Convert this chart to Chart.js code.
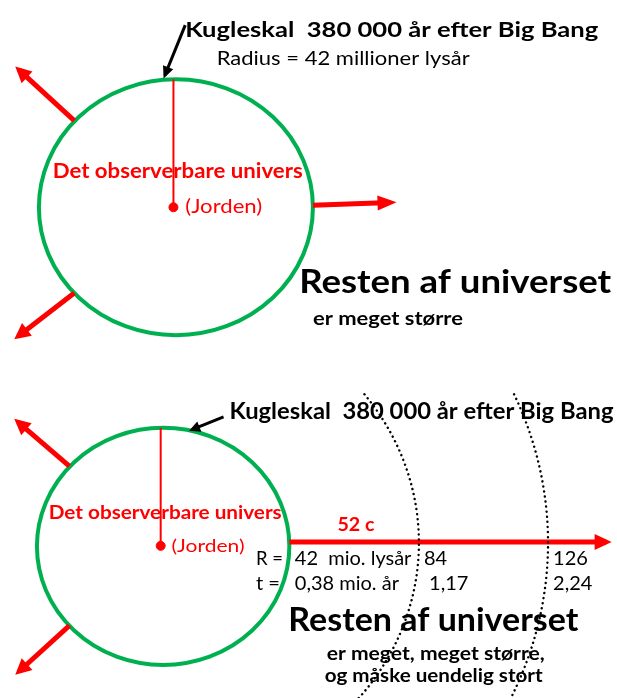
<!DOCTYPE html>
<html>
<head>
<meta charset="utf-8">
<script src="https://cdn.jsdelivr.net/npm/chart.js@4/dist/chart.umd.min.js"></script>
<style>
  html, body { margin: 0; padding: 0; background: #fff; }
  canvas { display: block; }
</style>
</head>
<body>
<canvas id="universChart" width="617" height="698"></canvas>
<script>
// Data: radius of the observable universe and later shells (mio. lysår) and times (mio. år)
const ringRadii = [42, 84, 126];
const ringTimes = ['0,38', '1,17', '2,24'];
const speedLabel = '52 c';

const ringLabels = ringRadii.map((r, i) => i === 0 ? r + '  mio. lysår' : String(r));
const timeLabels = ringTimes.map((t, i) => i === 0 ? t + ' mio. år' : (i === 1 ? ' ' + t : t));

// Layout (canvas pixels, via the x / y scales)
const RED = '#ff0000';
const GREEN = '#00b050';
const earthTop = { x: 171, y: 205 };
const earthBottom = { x: 158, y: 549 };
const shellTop = { cx: 173.5, cy: 205, rx: 139.5, ry: 130 };
const shellBottom = { cx: 160.5, cy: 549.5, rx: 128.5, ry: 120.5 };
const pxPerMly = 3.13;
const ringCenterY = 546;
const ringAspect = 0.937;
const ringTopY = 395;

// Build a line dataset ending under an arrow head
function arrowDataset(from, to, color, width, headLen, headHalf) {
    const dx = to[0] - from[0], dy = to[1] - from[1];
    const L = Math.hypot(dx, dy);
    const ext = (width / 2) * headLen / headHalf;
    return {
        showLine: true,
        data: [{ x: from[0], y: from[1] }, { x: to[0] - dx / L * ext, y: to[1] - dy / L * ext }],
        borderColor: color,
        backgroundColor: color,
        borderWidth: width,
        borderCapStyle: 'butt',
        pointRadius: 0,
        clip: false,
        arrow: { len: headLen, half: headHalf, ext: ext }
    };
}

const datasets = [
    // radius lines
    { showLine: true, data: [{ x: 171, y: 75 }, earthTop], borderColor: RED, borderWidth: 2, pointRadius: 0 },
    { showLine: true, data: [{ x: 158, y: 429 }, earthBottom], borderColor: RED, borderWidth: 2, pointRadius: 0 },
    // Jorden
    { data: [earthTop, earthBottom], backgroundColor: RED, borderColor: RED, pointRadius: 4.5 },
    // expansion arrows
    arrowDataset([70, 117], [10, 62], RED, 5, 16, 8),
    arrowDataset([313, 203], [398, 200], RED, 5, 19, 7.5),
    arrowDataset([70, 292], [9, 339], RED, 5, 16, 8),
    arrowDataset([65, 468], [9, 420], RED, 5, 16, 8),
    arrowDataset([65, 630], [10, 680], RED, 5, 16, 8),
    arrowDataset([289, 545], [617, 545], RED, 5, 17, 8),
    // pointer arrows
    arrowDataset([183, 20], [161, 74], '#000', 3, 12, 5.5),
    arrowDataset([222, 418], [187, 432], '#000', 3, 11, 5.5)
];

const texts = [
    { text: 'Kugleskal  380 000 år efter Big Bang', x: 183, y: 32, size: 21, bold: true, w: 413 },
    { text: 'Radius = ' + ringRadii[0] + ' millioner lysår', x: 215, y: 60, size: 18.5, w: 253 },
    { text: 'Det observerbare univers', x: 48, y: 175, size: 20, bold: true, color: RED, w: 250 },
    { text: '(Jorden)', x: 183, y: 211, size: 18.5, color: RED, w: 77 },
    { text: 'Resten af universet', x: 299, y: 292, size: 33, bold: true, w: 312 },
    { text: 'er meget større', x: 313, y: 325, size: 18.5, bold: true, w: 150 },
    { text: 'Kugleskal  380 000 år efter Big Bang', x: 228, y: 420, size: 22, bold: true, w: 384 },
    { text: 'Det observerbare univers', x: 44, y: 522, size: 19, bold: true, color: RED, w: 233 },
    { text: '(Jorden)', x: 169, y: 555, size: 18, color: RED, w: 73 },
    { text: speedLabel, x: 338, y: 534, size: 19, bold: true, color: RED, w: 37 },
    { text: 'R =', x: 255, y: 568, size: 20, w: 27 },
    { text: 't =', x: 255, y: 594, size: 20, w: 24 },
    { text: 'Resten af universet', x: 288, y: 636, size: 32.5, bold: true, w: 290 },
    { text: 'er meget, meget større,', x: 327, y: 665, size: 18.5, bold: true, w: 218 },
    { text: 'og måske uendelig stort', x: 325, y: 687, size: 18.5, bold: true, w: 218 }
];

function drawText(ctx, xs, ys, l) {
    ctx.save();
    ctx.font = (l.bold ? 'bold ' : '') + l.size + 'px Lato, "Open Sans", sans-serif';
    ctx.fillStyle = l.color || '#000';
    ctx.textBaseline = 'alphabetic';
    const natural = ctx.measureText(l.text).width;
    const sx = l.w ? l.w / natural : 1;
    ctx.translate(xs.getPixelForValue(l.x), ys.getPixelForValue(l.y));
    ctx.scale(sx, 1);
    ctx.fillText(l.text, 0, 0);
    ctx.restore();
}

function strokeShell(ctx, xs, ys, s) {
    const cx = xs.getPixelForValue(s.cx), cy = ys.getPixelForValue(s.cy);
    const rx = xs.getPixelForValue(s.cx + s.rx) - cx;
    const ry = ys.getPixelForValue(s.cy + s.ry) - cy;
    ctx.beginPath();
    ctx.ellipse(cx, cy, rx, ry, 0, 0, Math.PI * 2);
    ctx.stroke();
}

const diagramPlugin = {
    id: 'diagram',
    beforeDatasetsDraw(chart) {
        const ctx = chart.ctx, xs = chart.scales.x, ys = chart.scales.y;
        ctx.save();
        ctx.strokeStyle = GREEN;
        ctx.lineWidth = 4;
        strokeShell(ctx, xs, ys, shellTop);
        strokeShell(ctx, xs, ys, shellBottom);
        ctx.restore();
    },
    afterDatasetsDraw(chart) {
        const ctx = chart.ctx, xs = chart.scales.x, ys = chart.scales.y, ms = chart.scales.mly;

        // arrow heads
        chart.data.datasets.forEach((ds, i) => {
            if (!ds.arrow) return;
            const pts = chart.getDatasetMeta(i).data;
            const p0 = pts[0], p1 = pts[pts.length - 1];
            const L = Math.hypot(p1.x - p0.x, p1.y - p0.y);
            const ux = (p1.x - p0.x) / L, uy = (p1.y - p0.y) / L;
            const ax = p1.x + ux * ds.arrow.ext, ay = p1.y + uy * ds.arrow.ext;
            const bx = ax - ux * ds.arrow.len, by = ay - uy * ds.arrow.len;
            ctx.save();
            ctx.fillStyle = ds.borderColor;
            ctx.beginPath();
            ctx.moveTo(ax, ay);
            ctx.lineTo(bx - uy * ds.arrow.half, by + ux * ds.arrow.half);
            ctx.lineTo(bx + uy * ds.arrow.half, by - ux * ds.arrow.half);
            ctx.closePath();
            ctx.fill();
            ctx.restore();
        });

        // texts
        texts.forEach(l => drawText(ctx, xs, ys, l));

        // ring labels R and t
        const row1 = 568, row2 = 594;
        ringRadii.forEach((r, i) => {
            const x = xs.getValueForPixel(ms.getPixelForValue(r) + 5);
            drawText(ctx, xs, ys, { text: ringLabels[i], x: x, y: row1, size: 20 });
            drawText(ctx, xs, ys, { text: timeLabels[i], x: x, y: row2, size: 20 });
        });

        // dotted shells for the larger radii
        ctx.save();
        ctx.strokeStyle = '#000';
        ctx.lineWidth = 2.4;
        ctx.lineCap = 'round';
        ctx.setLineDash([0.1, 5]);
        const cx = ms.getPixelForValue(0);
        const cy = ys.getPixelForValue(ringCenterY);
        ringRadii.slice(1).forEach(r => {
            const rx = ms.getPixelForValue(r) - cx;
            const ry = rx * ringAspect;
            const t0 = Math.asin(Math.max(-1, (ys.getPixelForValue(ringTopY) - cy) / ry));
            const t1 = Math.asin(Math.min(1, (chart.height + 6 - cy) / ry));
            ctx.beginPath();
            ctx.ellipse(cx, cy, rx, ry, 0, t0, t1);
            ctx.stroke();
        });
        ctx.restore();
    }
};

new Chart(document.getElementById('universChart'), {
    type: 'scatter',
    data: { datasets: datasets },
    options: {
        responsive: false,
        animation: false,
        devicePixelRatio: 1,
        events: [],
        layout: { padding: 0 },
        scales: {
            x: { type: 'linear', min: 0, max: 617, display: false },
            y: { type: 'linear', min: 0, max: 698, reverse: true, display: false },
            mly: { type: 'linear', axis: 'x', display: false,
                   min: -earthBottom.x / pxPerMly, max: (617 - earthBottom.x) / pxPerMly }
        },
        plugins: {
            legend: { display: false },
            tooltip: { enabled: false }
        }
    },
    plugins: [diagramPlugin]
});
</script>
</body>
</html>
